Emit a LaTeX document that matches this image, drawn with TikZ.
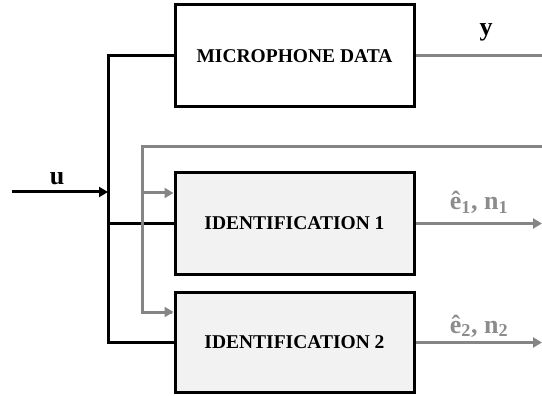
\documentclass[tikz,border=0pt]{standalone}
\usepackage{fontspec}
\setmainfont{Liberation Serif}
\usetikzlibrary{arrows.meta}
\definecolor{linegray}{HTML}{858585}
\definecolor{labelgray}{HTML}{8C8C8C}
\definecolor{boxfill}{HTML}{F2F2F2}
\tikzset{
  blockbox/.style={draw=black, line width=3pt, minimum width=239pt, minimum height=102pt, inner sep=0pt,
    font=\fontsize{19.5}{22}\selectfont\bfseries},
  blackline/.style={draw=black, line width=3pt},
  grayline/.style={draw=linegray, line width=3pt},
  graytip/.style={-{Triangle[length=9pt,width=10pt]}},
  blacktip/.style={-{Triangle[length=9pt,width=10pt]}},
  biglabel/.style={font=\fontsize{26}{30}\selectfont\bfseries, anchor=base, inner sep=0pt},
}
\begin{document}
\begin{tikzpicture}[x=1pt,y=-1pt]
\useasboundingbox (0,0) rectangle (542,396);
% bus
\coordinate (bt) at (108,56);
\coordinate (bb) at (108,342.5);
\coordinate (bm) at (108,223.5);
\coordinate (uin) at (12,192);
\coordinate (ubus) at (108,192);
\node[blockbox, fill=white] (mic) at (294.5,56) {MICROPHONE DATA};
\node[blockbox, fill=boxfill] (id1) at (294.5,223.5) {IDENTIFICATION 1};
\node[blockbox, fill=boxfill, minimum height=100pt] (id2) at (294.5,342.5) {IDENTIFICATION 2};
\draw[blackline, line cap=rect] (mic.west) -- (bt) -- (bb) -- (id2.west);
\draw[blackline] (bm) -- (id1.west);
\draw[blackline, blacktip] (uin) -- (ubus);
\node[biglabel] (ulab) at (57,185) {u};
% gray feedback
\coordinate (gR) at (542,147);
\coordinate (gC) at (142,147);
\coordinate (g1) at (142,193);
\coordinate (g2) at (142,312);
\draw[grayline] (gR) -- (gC) -- (g2) -- ([xshift=-2pt]g2 -| id2.west);
\draw[grayline, graytip] (g2) -- (g2 -| id2.west);
\draw[grayline, graytip] (g1) -- (g1 -| id1.west);
% outputs
\coordinate (yout) at (542,56);
\coordinate (e1out) at (542,223.5);
\coordinate (e2out) at (542,342.5);
\draw[grayline] (mic.east) -- (yout);
\draw[grayline, graytip] (id1.east) -- (e1out);
\draw[grayline, graytip] (id2.east) -- (e2out);
\node[biglabel] (ylab) at (486,36) {y};
\node[biglabel, text=labelgray] (e1lab) at (479,210) {ê\textsubscript{1}, n\textsubscript{1}};
\node[biglabel, text=labelgray] (e2lab) at (479,333) {ê\textsubscript{2}, n\textsubscript{2}};
\end{tikzpicture}
\end{document}
